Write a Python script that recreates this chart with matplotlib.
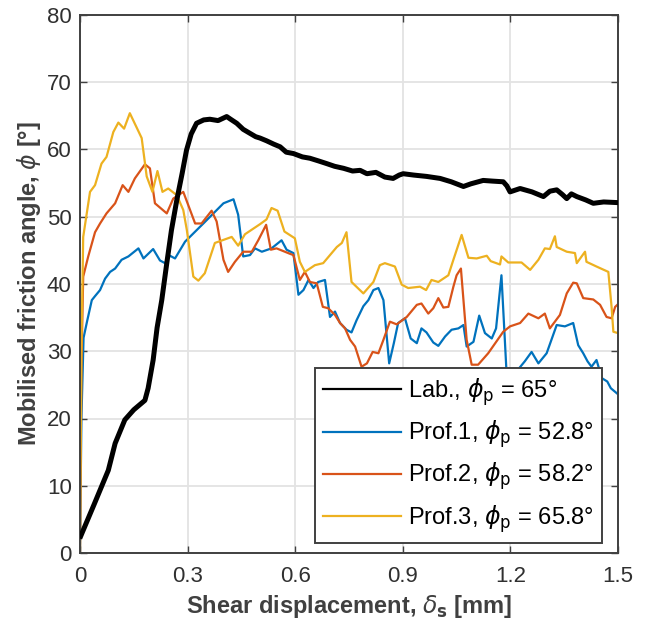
import matplotlib
matplotlib.use('Agg')
import matplotlib.pyplot as plt

plt.rcParams['font.family'] = ['Liberation Sans', 'DejaVu Sans']
plt.rcParams['mathtext.fontset'] = 'dejavusans'

# Lab. test (black)
lab_x = [0.002, 0.04, 0.079, 0.098, 0.125, 0.15, 0.181, 0.19, 0.204, 0.215, 0.228, 0.242,
         0.255, 0.27, 0.285, 0.297, 0.31, 0.325, 0.345, 0.362, 0.385, 0.409, 0.42, 0.437,
         0.455, 0.474, 0.49, 0.502, 0.52, 0.54, 0.558, 0.575, 0.595, 0.62, 0.641, 0.665,
         0.688, 0.71, 0.735, 0.76, 0.781, 0.80, 0.825, 0.85, 0.873, 0.89, 0.901, 0.93,
         0.966, 1.004, 1.035, 1.069, 1.09, 1.124, 1.15, 1.18, 1.19, 1.199, 1.227, 1.26,
         1.292, 1.31, 1.329, 1.345, 1.357, 1.37, 1.385, 1.41, 1.431, 1.46, 1.5]
lab_y = [2.5, 7.3, 12.3, 16.3, 19.8, 21.3, 22.7, 24.5, 28.7, 33.5, 37.6, 43.1,
         48.0, 52.5, 56.5, 59.9, 62.3, 63.9, 64.4, 64.5, 64.3, 64.9, 64.5, 63.9,
         63.0, 62.4, 61.9, 61.7, 61.3, 60.8, 60.4, 59.6, 59.4, 58.9, 58.7, 58.3,
         57.9, 57.5, 57.2, 56.8, 56.9, 56.4, 56.6, 55.9, 55.7, 56.2, 56.4, 56.2,
         56.0, 55.7, 55.2, 54.5, 54.9, 55.4, 55.3, 55.2, 54.6, 53.7, 54.2, 53.7,
         53.0, 53.8, 54.0, 53.3, 52.7, 53.4, 53.0, 52.5, 52.0, 52.2, 52.1]

# Prof.1 (blue)
p1_x = [0.0, 0.004, 0.01, 0.02, 0.033, 0.042, 0.056, 0.07, 0.084, 0.098, 0.116, 0.135,
        0.163, 0.177, 0.204, 0.223, 0.237, 0.251, 0.265, 0.293, 0.344, 0.4, 0.428, 0.441,
        0.455, 0.474, 0.488, 0.507, 0.534, 0.562, 0.576, 0.595, 0.609, 0.623, 0.637, 0.651,
        0.664, 0.683, 0.697, 0.711, 0.725, 0.743, 0.757, 0.771, 0.79, 0.804, 0.818, 0.832,
        0.846, 0.862, 0.875, 0.887, 0.906, 0.922, 0.939, 0.952, 0.966, 0.985, 0.999, 1.018,
        1.036, 1.055, 1.069, 1.078, 1.097, 1.113, 1.129, 1.148, 1.16, 1.175, 1.19, 1.2,
        1.217, 1.24, 1.259, 1.278, 1.301, 1.329, 1.352, 1.375, 1.389, 1.403, 1.415, 1.426,
        1.44, 1.455, 1.47, 1.48, 1.5]
p1_y = [0.0, 20.0, 32.0, 34.5, 37.6, 38.2, 39.1, 40.8, 41.8, 42.3, 43.6, 44.1,
        45.3, 43.8, 45.2, 43.5, 43.1, 44.2, 43.8, 46.3, 49.0, 52.0, 52.6, 50.3,
        44.1, 44.3, 45.3, 44.8, 45.3, 46.5, 45.1, 44.6, 38.4, 39.1, 40.6, 39.4,
        40.3, 40.6, 35.1, 35.9, 34.2, 33.2, 32.8, 34.6, 36.7, 37.6, 39.1, 39.4,
        37.6, 28.2, 31.2, 34.2, 34.9, 31.9, 31.2, 33.4, 32.8, 31.3, 30.8, 32.2,
        33.2, 33.4, 33.9, 30.7, 31.4, 35.3, 32.7, 31.9, 33.4, 41.3, 26.0, 24.0,
        27.0, 28.5, 29.9, 28.2, 29.7, 33.9, 33.7, 34.2, 30.9, 29.7, 28.5, 27.7,
        28.7, 26.0, 25.5, 24.5, 23.6]

# Prof.2 (red)
p2_x = [0.0, 0.004, 0.009, 0.023, 0.042, 0.056, 0.074, 0.098, 0.119, 0.135, 0.153, 0.181,
        0.195, 0.209, 0.242, 0.26, 0.288, 0.307, 0.321, 0.339, 0.367, 0.381, 0.4, 0.413,
        0.432, 0.455, 0.479, 0.497, 0.519, 0.532, 0.548, 0.585, 0.595, 0.613, 0.627, 0.641,
        0.66, 0.677, 0.692, 0.711, 0.725, 0.739, 0.753, 0.767, 0.785, 0.8, 0.816, 0.832,
        0.846, 0.864, 0.883, 0.911, 0.939, 0.952, 0.971, 0.985, 0.999, 1.013, 1.027, 1.041,
        1.05, 1.062, 1.078, 1.092, 1.11, 1.138, 1.18, 1.199, 1.227, 1.25, 1.278, 1.296,
        1.31, 1.338, 1.357, 1.375, 1.385, 1.403, 1.431, 1.45, 1.468, 1.482, 1.492, 1.5]
p2_y = [0.0, 28.0, 41.1, 44.1, 47.7, 49.0, 50.5, 52.0, 54.7, 53.7, 55.7, 57.8,
        57.2, 52.0, 50.5, 52.7, 53.7, 51.0, 49.0, 49.0, 50.9, 49.3, 43.6, 41.8,
        43.3, 44.8, 44.8, 46.5, 48.8, 45.1, 45.3, 44.5, 44.3, 40.6, 41.8, 40.3,
        40.1, 36.6, 36.4, 35.4, 34.2, 33.4, 31.7, 30.7, 27.7, 28.2, 29.9, 29.7,
        31.7, 34.4, 34.0, 35.1, 36.9, 37.1, 35.6, 36.4, 37.9, 36.5, 36.6, 39.6,
        41.3, 42.3, 31.7, 28.0, 28.0, 29.7, 32.9, 33.7, 34.2, 35.6, 34.9, 35.6,
        33.4, 35.4, 38.6, 40.2, 40.1, 37.9, 37.7, 36.9, 35.1, 34.9, 36.6, 37.0]

# Prof.3 (yellow)
p3_x = [0.0, 0.004, 0.009, 0.028, 0.042, 0.06, 0.074, 0.093, 0.107, 0.123, 0.139, 0.172,
        0.186, 0.202, 0.216, 0.23, 0.246, 0.27, 0.288, 0.298, 0.316, 0.33, 0.348, 0.376,
        0.423, 0.441, 0.46, 0.502, 0.52, 0.534, 0.551, 0.57, 0.599, 0.613, 0.627, 0.655,
        0.678, 0.697, 0.716, 0.73, 0.743, 0.757, 0.79, 0.818, 0.836, 0.85, 0.878, 0.897,
        0.915, 0.948, 0.965, 0.98, 0.999, 1.027, 1.041, 1.064, 1.083, 1.106, 1.134, 1.145,
        1.171, 1.175, 1.194, 1.231, 1.255, 1.278, 1.296, 1.31, 1.324, 1.329, 1.357, 1.38,
        1.385, 1.408, 1.412, 1.44, 1.473, 1.482, 1.487, 1.5]
p3_y = [0.0, 30.0, 47.0, 53.7, 54.7, 57.9, 58.9, 62.6, 64.0, 63.1, 65.4, 61.7,
        56.0, 53.7, 56.8, 53.7, 54.2, 53.2, 51.0, 48.0, 41.1, 40.5, 41.6, 46.1,
        47.0, 45.7, 47.4, 48.9, 49.6, 51.3, 50.9, 47.8, 46.8, 43.3, 41.8, 42.8,
        43.1, 44.3, 45.5, 46.1, 47.7, 40.3, 38.6, 40.3, 42.8, 43.1, 42.6, 39.9,
        39.4, 39.6, 39.1, 40.6, 40.3, 41.3, 43.6, 47.3, 43.9, 43.8, 44.2, 43.4,
        42.9, 44.1, 43.2, 43.2, 42.1, 43.6, 45.3, 45.2, 47.1, 45.5, 44.8, 44.6,
        43.1, 44.8, 43.3, 42.6, 41.8, 36.6, 32.9, 32.7]

labels = [r'Lab., $\phi_\mathrm{p}$ = 65°', r'Prof.1, $\phi_\mathrm{p}$ = 52.8°',
          r'Prof.2, $\phi_\mathrm{p}$ = 58.2°', r'Prof.3, $\phi_\mathrm{p}$ = 65.8°']

fig = plt.figure(figsize=(6.46, 6.25), dpi=100)
ax = fig.add_axes([0.1238, 0.1152, 0.8329, 0.8608])

ax.plot(lab_x, lab_y, color='k', lw=3.6, label=labels[0], zorder=5)
ax.plot(p1_x, p1_y, color='#0072BD', lw=1.6, label=labels[1])
ax.plot(p2_x, p2_y, color='#D95319', lw=1.6, label=labels[2])
ax.plot(p3_x, p3_y, color='#EDB120', lw=1.6, label=labels[3])

ax.set_xlim(0, 1.5)
ax.set_ylim(0, 80)
ax.set_xticks([0, 0.3, 0.6, 0.9, 1.2, 1.5])
ax.set_xticklabels(['0', '0.3', '0.6', '0.9', '1.2', '1.5'])
ax.set_yticks(range(0, 81, 10))
ax.grid(True, color='#e3e3e3', lw=1.3)
ax.set_axisbelow(True)

axcol = '#404040'
for s in ax.spines.values():
    s.set_color(axcol)
    s.set_linewidth(1.4)
ax.tick_params(direction='in', top=True, right=True, length=5, width=1.0,
               colors=axcol, labelsize=16, labelcolor='#303030')
ax.tick_params(axis='x', pad=9)
ax.tick_params(axis='y', pad=6)

ax.set_xlabel(r'Shear displacement, $\delta_\mathbf{s}$ [mm]', fontsize=17,
              fontweight='bold', color='#404040', labelpad=5)
ax.set_ylabel(r'Mobilised friction angle, $\phi$ [°]', fontsize=17,
              fontweight='bold', color='#404040', labelpad=3)

leg = ax.legend(loc='lower right', bbox_to_anchor=(0.970, 0.0186), borderaxespad=0,
                fontsize=17, fancybox=False, handlelength=3.3, handletextpad=0.3,
                labelspacing=0.45, borderpad=0.35, framealpha=1)
leg.get_frame().set_edgecolor(axcol)
leg.get_frame().set_linewidth(1.4)
for h in leg.legend_handles:
    h.set_linewidth(1.6)
leg.set_zorder(10)

fig.savefig('out.png', dpi=100)
